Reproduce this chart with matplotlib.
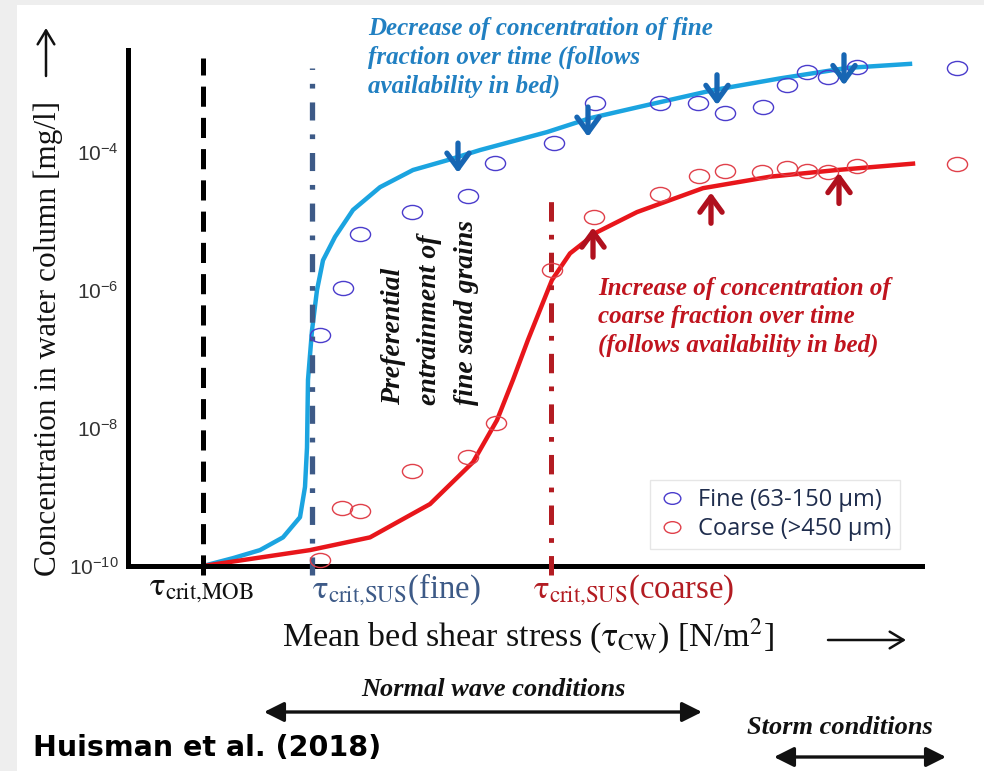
import numpy as np
import matplotlib.pyplot as plt
from matplotlib.path import Path
from matplotlib.transforms import Affine2D
from matplotlib.lines import Line2D
from matplotlib.patches import Rectangle

plt.rcParams['mathtext.fontset'] = 'stix'
plt.rcParams['lines.scale_dashes'] = False

# schematic stress axis (arbitrary units) and concentration [mg/l]
fine_curve_x = [0.75, 1.05, 1.32, 1.55, 1.72, 1.77, 1.79, 1.80, 1.84, 1.89, 1.95, 2.07,
                2.25, 2.52, 2.85, 3.19, 3.52, 4.19, 4.62, 5.19, 5.85, 6.52, 7.19, 7.82]
fine_curve_c = [1.0e-10, 1.3e-10, 1.7e-10, 2.6e-10, 5.1e-10, 1.4e-9, 5.2e-9, 5.0e-8,
                2.6e-7, 1.0e-6, 2.7e-6, 5.9e-6, 1.45e-5, 3.1e-5, 5.5e-5, 7.6e-5,
                1.07e-4, 1.95e-4, 3.1e-4, 4.8e-4, 7.9e-4, 1.17e-3, 1.66e-3, 1.9e-3]

coarse_curve_x = [0.75, 1.82, 2.42, 3.02, 3.45, 3.69, 3.85, 4.00, 4.24, 4.42, 4.69,
                  5.09, 5.75, 6.42, 7.09, 7.85]
coarse_curve_c = [1.0e-10, 1.7e-10, 2.6e-10, 7.9e-10, 3.2e-9, 1.3e-8, 5.0e-8, 1.9e-7,
                  1.4e-6, 3.4e-6, 6.9e-6, 1.35e-5, 3.0e-5, 4.4e-5, 5.5e-5, 6.8e-5]

fine_obs_x = [1.92, 2.15, 2.32, 2.84, 3.40, 3.67, 4.26, 4.67, 5.32, 5.70, 5.97, 6.35,
              6.59, 6.79, 7.00, 7.29, 8.29]
fine_obs_c = [2.2e-7, 1.07e-6, 6.5e-6, 1.35e-5, 2.3e-5, 6.9e-5, 1.35e-4, 5.1e-4, 5.1e-4,
              5.1e-4, 3.7e-4, 4.5e-4, 9.3e-4, 1.44e-3, 1.23e-3, 1.7e-3, 1.66e-3]

coarse_obs_x = [1.92, 2.14, 2.32, 2.84, 3.40, 3.68, 4.24, 4.66, 5.32, 5.71, 5.97, 6.34,
                6.59, 6.79, 7.00, 7.29, 8.29]
coarse_obs_c = [1.23e-10, 6.9e-10, 6.3e-10, 2.4e-9, 3.8e-9, 1.2e-8, 1.95e-6, 1.15e-5,
                2.45e-5, 4.5e-5, 5.3e-5, 5.1e-5, 5.9e-5, 5.3e-5, 5.1e-5, 6.3e-5, 6.8e-5]

# arrows showing change over time
fine_arrow_x = [3.30, 4.60, 5.89, 7.16]
fine_arrow_from = [1.35e-4, 4.5e-4, 1.32e-3, 2.57e-3]
fine_arrow_to = [5.0e-5, 1.66e-4, 4.8e-4, 9.3e-4]

coarse_arrow_x = [4.65, 5.83, 7.11]
coarse_arrow_from = [3.0e-6, 9.3e-6, 1.8e-5]
coarse_arrow_to = [8.1e-6, 2.6e-5, 5.0e-5]

# critical stresses
tau_x = [0.75, 1.84, 4.23]
tau_top = [2.3e-3, 1.66e-3, 2.8e-5]
tau_labels = [r'$\mathrm{\tau_{crit{,}MOB}}$', r'$\mathrm{\tau_{crit{,}SUS}}$(fine)',
              r'$\mathrm{\tau_{crit{,}SUS}}$(coarse)']

ytick_vals = [1e-10, 1e-8, 1e-6, 1e-4]
ytick_labels = [r'$\mathregular{10^{-10}}$', r'$\mathregular{10^{-8}}$',
                r'$\mathregular{10^{-6}}$', r'$\mathregular{10^{-4}}$']

legend_labels = ['Fine (63-150 \u00b5m)', 'Coarse (>450 \u00b5m)']

CYAN = '#1ba4e0'
RED = '#e8161b'
BLUE_PT = '#4a3ccc'
RED_PT = '#e0404a'
BLUE_ARR = '#1766b3'
RED_ARR = '#b0101e'
BLUE_TXT = '#2180c2'
RED_TXT = '#c0141e'
SLATE = '#3d5a87'
DARKRED = '#b31c22'

W, H = 984, 771


def fx(px):
    return px / W


def fy(py):
    return 1 - py / H


fig = plt.figure(figsize=(9.84, 7.71), dpi=100, facecolor='#eeeeee')
fig.patches.append(Rectangle((fx(17), 0), 1, fy(5), transform=fig.transFigure,
                             facecolor='white', edgecolor='none', zorder=-10))

ax = fig.add_axes([fx(128), fy(566), fx(922) - fx(128), fy(50) - fy(566)])
ax.set_facecolor('none')
ax.set_yscale('log')
ax.set_xlim(0, 7.94)
ax.set_ylim(1e-10, 10 ** -2.52)
for s in ['top', 'right']:
    ax.spines[s].set_visible(False)
for s in ['left', 'bottom']:
    ax.spines[s].set_linewidth(3.6)
ax.set_xticks([])
ax.set_yticks(ytick_vals)
ax.set_yticklabels(ytick_labels, fontsize=15, color='#333333', family='Liberation Sans')
ax.minorticks_off()
ax.tick_params(axis='y', length=0, pad=7)

# threshold lines
ybot = 10 ** -10.13
ax.plot([tau_x[0]] * 2, [ybot, tau_top[0]], color='black', lw=3.6,
        dashes=(14.5, 8), clip_on=False, zorder=3)
ax.plot([tau_x[1]] * 2, [ybot, tau_top[1]], color=SLATE, lw=3.8,
        dashes=(13, 10, 3.4, 10), clip_on=False, zorder=3)
ax.plot([tau_x[2]] * 2, [ybot, tau_top[2]], color=DARKRED, lw=3.6,
        dashes=(14, 9.5, 3.4, 9.5), clip_on=False, zorder=3)

# curves
ax.plot(fine_curve_x, fine_curve_c, color=CYAN, lw=3.2, zorder=2, solid_joinstyle='round')
ax.plot(coarse_curve_x, coarse_curve_c, color=RED, lw=3.2, zorder=2, solid_joinstyle='round')

ell = Path.unit_circle().transformed(Affine2D().scale(1.0, 0.7))
ax.plot(fine_obs_x, fine_obs_c, ls='none', marker=ell, ms=14.5, mfc='none',
        mec=BLUE_PT, mew=1.0, clip_on=False, zorder=4)
ax.plot(coarse_obs_x, coarse_obs_c, ls='none', marker=ell, ms=14.5, mfc='none',
        mec=RED_PT, mew=1.0, clip_on=False, zorder=4)

for x, y0, y1 in zip(fine_arrow_x, fine_arrow_from, fine_arrow_to):
    ax.annotate('', xy=(x, y1), xytext=(x, y0),
                arrowprops=dict(arrowstyle='->,head_length=0.55,head_width=0.4',
                                lw=3.8, color=BLUE_ARR, shrinkA=0, shrinkB=0,
                                mutation_scale=20), zorder=5)
for x, y0, y1 in zip(coarse_arrow_x, coarse_arrow_from, coarse_arrow_to):
    ax.annotate('', xy=(x, y1), xytext=(x, y0),
                arrowprops=dict(arrowstyle='->,head_length=0.55,head_width=0.4',
                                lw=3.8, color=RED_ARR, shrinkA=0, shrinkB=0,
                                mutation_scale=20), zorder=5)

# legend
hnd = [Line2D([], [], ls='none', marker=ell, ms=12, mfc='none', mec=BLUE_PT, mew=1.0),
       Line2D([], [], ls='none', marker=ell, ms=12, mfc='none', mec=RED_PT, mew=1.0)]
leg = ax.legend(hnd, legend_labels, loc='upper left', bbox_to_anchor=(fx(650), fy(480)),
                bbox_transform=fig.transFigure, fancybox=False, framealpha=1,
                edgecolor='#e6e6e6', borderpad=0.35, handletextpad=0.55, handlelength=1.15,
                labelspacing=0.2, borderaxespad=0,
                prop={'family': 'Open Sans', 'size': 17})
for t in leg.get_texts():
    t.set_color('#1f2d4d')

# texts
serif = 'Liberation Serif'
fig.text(fx(368), fy(17), 'Decrease of concentration of fine\nfraction over time (follows\navailability in bed)',
         ha='left', va='top', color=BLUE_TXT, family=serif, style='italic', weight='bold',
         fontsize=18, linespacing=1.3)
fig.text(fx(598), fy(277), 'Increase of concentration of\ncoarse fraction over time\n(follows availability in bed)',
         ha='left', va='top', color=RED_TXT, family=serif, style='italic', weight='bold',
         fontsize=18, linespacing=1.3)
fig.text(fx(430), fy(405), 'Preferential\nentrainment of\nfine sand grains', rotation=90,
         ha='center', va='bottom', multialignment='left', color='#111111', family=serif,
         style='italic', weight='bold', fontsize=20, linespacing=1.6)

tau_colors = ['#111111', SLATE, DARKRED]
tau_px = [201, 396, 634]
for lab, c, px in zip(tau_labels, tau_colors, tau_px):
    fig.text(fx(px), fy(590), lab, ha='center', va='center', color=c, family=serif, fontsize=23.5)

fig.text(fx(282), fy(636), r'Mean bed shear stress ($\mathrm{\tau_{CW}}$) [N/m$^2$]',
         ha='left', va='center', family=serif, fontsize=24.5, color='#111111')
ax.annotate('', xy=(fx(906), fy(640)), xytext=(fx(828), fy(640)), xycoords='figure fraction',
            arrowprops=dict(arrowstyle='->,head_length=0.5,head_width=0.3', lw=1.8,
                            color='#111111', shrinkA=0, shrinkB=0, mutation_scale=20))

fig.text(fx(48), fy(338), 'Concentration in water column [mg/l]', rotation=90,
         ha='center', va='center', family=serif, fontsize=22.5, color='#111111')
ax.annotate('', xy=(fx(46), fy(28)), xytext=(fx(46), fy(76)), xycoords='figure fraction',
            arrowprops=dict(arrowstyle='->,head_length=0.5,head_width=0.3', lw=1.8,
                            color='#111111', shrinkA=0, shrinkB=0, mutation_scale=20))

fig.text(fx(493), fy(690), 'Normal wave conditions', ha='center', va='center', family=serif,
         style='italic', weight='bold', fontsize=19, color='#111111')
ax.annotate('', xy=(fx(702), fy(712)), xytext=(fx(264), fy(712)), xycoords='figure fraction',
            arrowprops=dict(arrowstyle='<|-|>,head_length=0.6,head_width=0.3', lw=2.4,
                            color='#111111', shrinkA=0, shrinkB=0, mutation_scale=20))
fig.text(fx(840), fy(728), 'Storm conditions', ha='center', va='center', family=serif,
         style='italic', weight='bold', fontsize=19, color='#111111')
ax.annotate('', xy=(fx(946), fy(757)), xytext=(fx(774), fy(757)), xycoords='figure fraction',
            arrowprops=dict(arrowstyle='<|-|>,head_length=0.6,head_width=0.3', lw=2.4,
                            color='#111111', shrinkA=0, shrinkB=0, mutation_scale=20))

fig.text(fx(33), fy(748), 'Huisman et al. (2018)', ha='left', va='center',
         family='DejaVu Sans', weight='bold', fontsize=20.5, color='black')

fig.savefig('out.png', dpi=100, facecolor=fig.get_facecolor())
